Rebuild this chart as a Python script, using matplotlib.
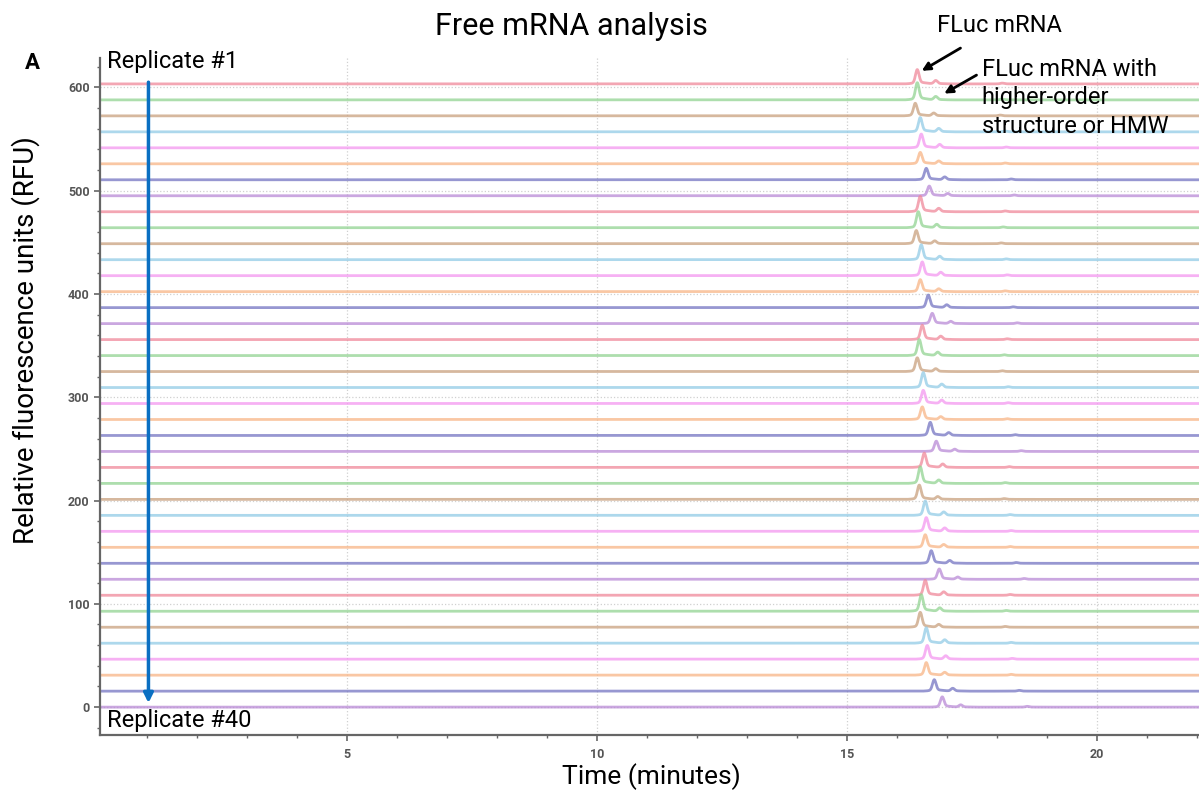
import numpy as np
import matplotlib.pyplot as plt

plt.rcParams['font.family'] = ['Roboto', 'DejaVu Sans']

# replicate 1 (top) ... replicate 40 (bottom)
replicates = [f"Replicate #{i}" for i in range(1, 41)]
main_times = [16.41, 16.41, 16.37, 16.47, 16.49, 16.47, 16.59, 16.65,
              16.47, 16.43, 16.39, 16.49, 16.51, 16.47, 16.63, 16.71,
              16.51, 16.45, 16.41, 16.53, 16.53, 16.51, 16.67, 16.79,
              16.55, 16.47, 16.45, 16.57, 16.59, 16.57, 16.69, 16.85,
              16.57, 16.49, 16.47, 16.59, 16.61, 16.59, 16.75, 16.91]
main_heights = [12.5, 15.0, 11.0, 12.5, 12.0, 10.0, 10.0, 8.5,
                13.5, 14.0, 11.5, 13.0, 12.0, 10.5, 11.0, 9.0,
                12.5, 14.0, 12.0, 13.0, 11.5, 11.0, 11.5, 9.0,
                12.5, 14.5, 12.5, 12.5, 12.0, 11.0, 11.0, 9.0,
                13.0, 14.5, 13.0, 13.5, 12.0, 11.0, 10.0, 9.0]
hmw_times = [16.78, 16.78, 16.74, 16.84, 16.86, 16.84, 16.96, 17.02,
             16.84, 16.80, 16.76, 16.86, 16.88, 16.84, 17.00, 17.08,
             16.88, 16.82, 16.78, 16.90, 16.90, 16.88, 17.04, 17.16,
             16.92, 16.84, 16.82, 16.94, 16.96, 16.94, 17.06, 17.22,
             16.94, 16.86, 16.84, 16.96, 16.98, 16.96, 17.12, 17.28]
hmw_heights = [3.0, 3.0, 2.5, 3.0, 3.0, 2.5, 2.5, 2.0] * 5
minor_times = [t + 1.7 for t in main_times]
minor_heights = [0.7] * 40

colors = ["#f0889a", "#92d392", "#c9a07e", "#92cbe6", "#f497f0",
          "#f8b586", "#7474c2", "#b98ad6"]

step = 15.47
t = np.linspace(0, 22.1, 4000)

fig = plt.figure(figsize=(11.99, 7.96), dpi=100)
ax = fig.add_axes([0.0834, 0.0766, 0.9166, 0.85])

n = len(replicates)
for i in range(n):
    base = step * (n - 1 - i)
    y = np.zeros_like(t)
    for tc, h in [(main_times[i], main_heights[i]),
                  (hmw_times[i], hmw_heights[i]),
                  (minor_times[i], minor_heights[i])]:
        y += h * np.exp(-0.5 * ((t - tc) / 0.035) ** 2)
        y += 0.12 * h * np.exp(-0.5 * ((t - tc - 0.05) / 0.12) ** 2)
    ax.plot(t, y + base, color=colors[i % 8], lw=2.0, alpha=0.75,
            solid_capstyle='butt')

ax.set_xlim(0.05, 22.05)
ax.set_ylim(-27, 628)
ax.set_xticks([5, 10, 15, 20])
ax.set_xticks(np.arange(1, 23, 1), minor=True)
ax.set_yticks(np.arange(0, 601, 100))
ax.set_yticks(np.arange(-20, 621, 20), minor=True)
ax.grid(True, which='major', ls=':', color='#d0d0d0', lw=0.9)
ax.set_axisbelow(True)
for s in ['top', 'right']:
    ax.spines[s].set_visible(False)
for s in ['left', 'bottom']:
    ax.spines[s].set_color('#666666')
    ax.spines[s].set_linewidth(1.6)
ax.tick_params(which='major', length=4, width=1.2, color='#666666',
               labelsize=9, labelcolor='#555555')
ax.tick_params(which='minor', length=2.5, width=1.0, color='#666666')
ax.tick_params(axis='x', which='major', pad=5)
for lab in ax.get_xticklabels() + ax.get_yticklabels():
    lab.set_fontweight('bold')

fig.text(0.5435, 0.024, "Time (minutes)", fontsize=19, ha='center', va='center')
fig.text(0.021, 0.573, "Relative fluorescence units (RFU)", fontsize=20,
         rotation=90, ha='center', va='center')
fig.text(0.477, 0.967, "Free mRNA analysis", fontsize=22, ha='center', va='center')
fig.text(0.027, 0.921, "A", fontsize=16, fontweight='bold', ha='center', va='center')

ax.text(0.2, 625, "Replicate #1", fontsize=17, ha='left', va='center')
ax.text(0.2, -13, "Replicate #40", fontsize=17, ha='left', va='center')
ax.annotate("", xy=(1.02, 4), xytext=(1.02, 605),
            arrowprops=dict(arrowstyle='-|>', color='#0a6fc2', lw=2.5,
                            mutation_scale=14, shrinkA=0, shrinkB=0))

ax.annotate("FLuc mRNA", xy=(16.5, 616), xytext=(16.8, 660),
            fontsize=17, ha='left', va='center', annotation_clip=False,
            arrowprops=dict(arrowstyle='-|>', color='black', lw=2,
                            mutation_scale=12, shrinkA=12, shrinkB=0))
ax.annotate("FLuc mRNA with\nhigher-order\nstructure or HMW",
            xy=(16.95, 594), xytext=(17.7, 590),
            fontsize=17, ha='left', va='center', linespacing=1.3,
            annotation_clip=False,
            arrowprops=dict(arrowstyle='-|>', color='black', lw=2,
                            mutation_scale=12, shrinkA=2, shrinkB=0,
                            relpos=(0, 0.82)))

fig.savefig("out.png", dpi=100)
